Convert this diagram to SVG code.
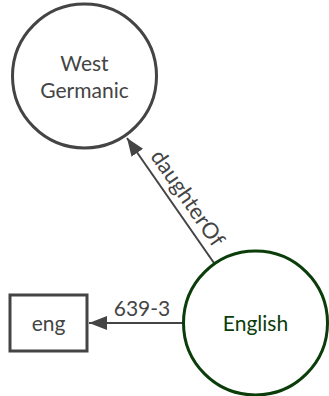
<svg xmlns="http://www.w3.org/2000/svg" width="329" height="396" viewBox="0 0 329 396">
<style>
.lbl{font-family:Lato,"Open Sans","Liberation Sans",sans-serif;font-size:21px;text-anchor:middle}
.edge{stroke:#444;stroke-width:2;fill:none}
</style>
<defs>
<marker id="arr" markerUnits="userSpaceOnUse" markerWidth="20" markerHeight="16" refX="18" refY="7" orient="auto">
<path d="M0,0 L18,7 L0,14 Z" fill="#444"/>
</marker>
</defs>
<rect width="329" height="396" fill="#fff"/>
<g id="connectors">
<line class="edge" x1="214" y1="263" x2="127" y2="138" marker-end="url(#arr)"/>
<g transform="translate(175,207) rotate(55.3)"><text class="lbl" x="0" y="-8" fill="#444" style="font-size:22px">daughterOf</text></g>
<line class="edge" x1="183" y1="323" x2="89" y2="323" marker-end="url(#arr)"/>
<text class="lbl" x="142" y="316" fill="#444">639-3</text>
</g>
<g id="westgermanic">
<circle cx="84.5" cy="76" r="72" fill="#fff" stroke="#444" stroke-width="3"/>
<text class="lbl" x="84.5" y="71" fill="#444">West</text>
<text class="lbl" x="84.5" y="98" fill="#444">Germanic</text>
</g>
<g id="english">
<circle cx="255.5" cy="323" r="72" fill="#fff" stroke="#0a3d0a" stroke-width="3"/>
<text class="lbl" x="255.5" y="331" fill="#0a3d0a">English</text>
</g>
<g id="eng">
<rect x="10" y="295" width="77" height="56" fill="#fff" stroke="#444" stroke-width="3"/>
<text class="lbl" x="48.5" y="331" fill="#444">eng</text>
</g>
</svg>
